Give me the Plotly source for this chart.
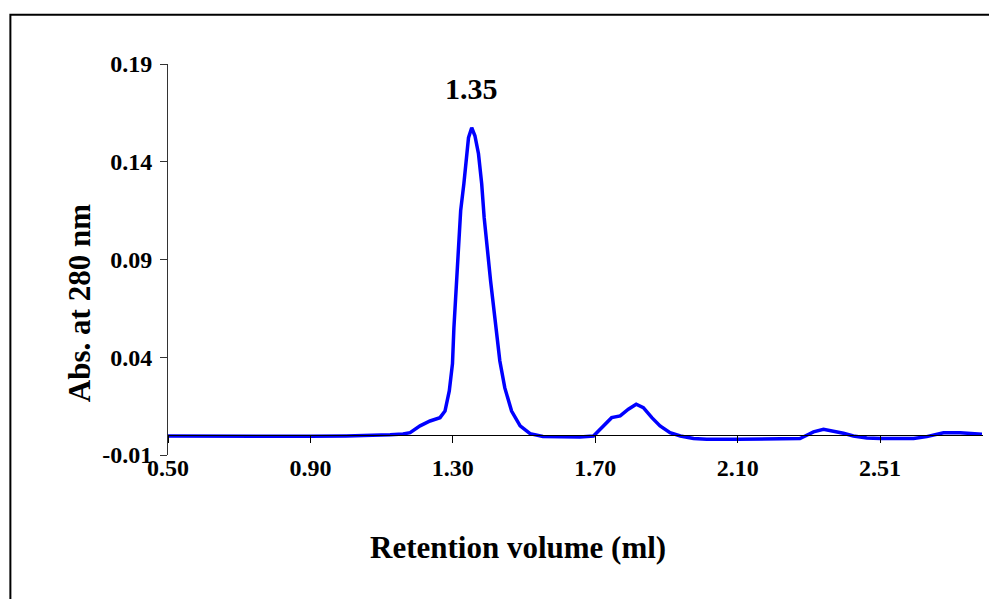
import plotly.graph_objects as go

# Retention volume (ml)
volume = [0.50, 0.60, 0.70, 0.80, 0.90, 1.00, 1.08, 1.124, 1.16, 1.18,
          1.208, 1.236, 1.264, 1.278, 1.290, 1.299, 1.303, 1.309, 1.315, 1.322,
          1.331, 1.339, 1.344, 1.353, 1.362, 1.372, 1.381, 1.388, 1.397, 1.406,
          1.418, 1.432, 1.446, 1.465, 1.489, 1.517, 1.553, 1.60, 1.657, 1.695,
          1.709, 1.728, 1.746, 1.770, 1.793, 1.815, 1.835, 1.859, 1.882, 1.910,
          1.939, 1.976, 2.013, 2.10, 2.20, 2.275, 2.294, 2.313, 2.341, 2.369,
          2.397, 2.425, 2.463, 2.500, 2.594, 2.631, 2.659, 2.678, 2.725, 2.762,
          2.786]
# Absorbance at 280 nm
absorbance = [-0.0003, -0.0004, -0.0003, -0.0004, -0.0004, -0.0003, -0.0002, 0.0003, 0.0008, 0.0014,
              0.0049, 0.0074, 0.0091, 0.0125, 0.0228, 0.0367, 0.0551, 0.0725, 0.0945, 0.1150,
              0.1288, 0.1441, 0.1523, 0.1574, 0.1533, 0.1441, 0.1288, 0.1114, 0.0945, 0.0791,
              0.0602, 0.0381, 0.0243, 0.0125, 0.0049, 0.0009, -0.0005, -0.0008, -0.0008, -0.0003,
              0.0023, 0.0057, 0.0091, 0.0100, 0.0134, 0.0160, 0.0142, 0.0091, 0.0049, 0.0014,
              -0.0003, -0.0016, -0.0019, -0.0019, -0.0019, -0.0016, 0.0001, 0.0018, 0.0032, 0.0023,
              0.0011, -0.0003, -0.0013, -0.0016, -0.0016, -0.0006, 0.0006, 0.0014, 0.0014, 0.0011,
              0.0006]

x_tickvals = [0.5, 0.9, 1.3, 1.7, 2.1, 2.5]
x_ticktext = ["0.50", "0.90", "1.30", "1.70", "2.10", "2.51"]
y_tickvals = [-0.01, 0.04, 0.09, 0.14, 0.19]
y_ticktext = ["-0.01", "0.04", "0.09", "0.14", "0.19"]

peak_label = "1.35"
peak_x = 1.353
peak_label_y = 0.1774

FONT = "Liberation Serif"

fig = go.Figure()
fig.add_trace(go.Scatter(x=volume, y=absorbance, mode="lines",
                         line=dict(color="#0000FF", width=3.5),
                         showlegend=False, hoverinfo="x+y"))

fig.update_layout(
    width=989, height=591,
    margin=dict(l=160, r=14, t=56, b=144),
    paper_bgcolor="white", plot_bgcolor="white",
    font=dict(family=FONT, color="black"),
    xaxis=dict(range=[0.5, 2.789], tickvals=x_tickvals, ticktext=x_ticktext,
               showgrid=False, zeroline=False, showline=True, linecolor="black",
               linewidth=1, ticks="outside", ticklen=7, tickcolor="black",
               anchor="free", position=0.05, ticklabelstandoff=4,
               tickfont=dict(family=FONT, size=24, weight="bold", color="black")),
    yaxis=dict(range=[-0.01, 0.19], tickvals=y_tickvals, ticktext=y_ticktext,
               showgrid=False, zeroline=False, showline=True, linecolor="#333333",
               linewidth=1, ticks="outside", ticklen=7, tickcolor="#333333",
               ticklabelstandoff=3,
               tickfont=dict(family=FONT, size=24, weight="bold", color="black")),
    shapes=[dict(type="rect", xref="paper", yref="paper",
                 x0=-0.1934, x1=1.03, y0=-0.40, y1=1.1262,
                 line=dict(color="black", width=2), fillcolor="rgba(0,0,0,0)")],
    annotations=[
        dict(x=peak_x, y=peak_label_y, xref="x", yref="y", text=peak_label,
             xanchor="center", yanchor="middle",
             showarrow=False, font=dict(family=FONT, size=30, weight="bold", color="black")),
        dict(x=0.4292, y=-0.2355, xref="paper", yref="paper", text="Retention volume (ml)",
             xanchor="center", yanchor="middle",
             showarrow=False, font=dict(family=FONT, size=31, weight="bold", color="black")),
        dict(x=-0.1077, y=0.389, xref="paper", yref="paper", text="Abs. at 280 nm",
             xanchor="center", yanchor="middle",
             textangle=-90, showarrow=False,
             font=dict(family=FONT, size=31, weight="bold", color="black")),
    ],
)

fig.write_html("out.html")
